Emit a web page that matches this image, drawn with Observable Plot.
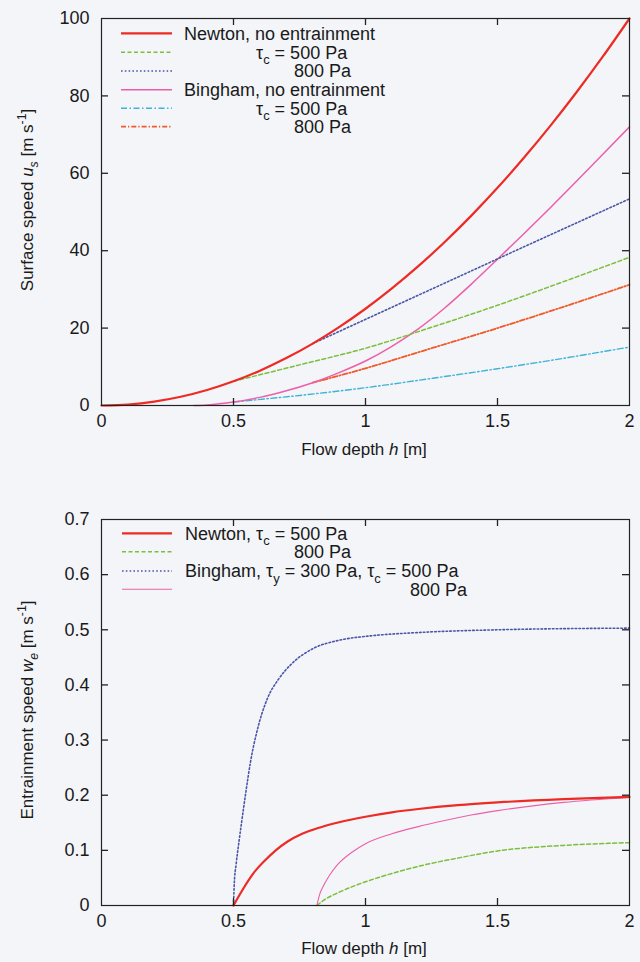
<!DOCTYPE html>
<html><head><meta charset="utf-8">
<script src="https://cdn.jsdelivr.net/npm/d3@7"></script>
<script src="https://cdn.jsdelivr.net/npm/@observablehq/plot@0.6"></script>
<style>
html,body{margin:0;padding:0;background:#f3f5f9;}
#chart{width:640px;}
svg{display:block;}
</style></head><body><div id="chart"></div>
<script>
// ---------- Data ----------
// Top panel: surface speed u_s [m/s] vs flow depth h [m]
const newtonH = [0,0.1,0.2,0.3,0.4,0.5,0.6,0.7,0.8,0.9,1.0,1.1,1.2,1.3,1.4,1.5,1.6,1.7,1.8,1.9,2.0];
const newtonU = [0,0.25,1,2.25,4,6.25,9,12.25,16,20.25,25,30.25,36,42.25,49,56.25,64,72.25,81,90.25,100];
const newton500H = [0.5,0.75,1.0,1.25,1.5,1.75,2.0];
const newton500U = [6.25,10.5,14.8,20.2,25.9,32,38.3];
const newton800H = [0.8,1.2,1.6,2.0];
const newton800U = [16,28.5,41,53.4];
const binghamH = [0.35,0.4,0.5,0.6,0.7,0.8,0.9,1.0,1.1,1.2,1.3,1.4,1.5,1.6,1.7,1.8,1.9,2.0];
const binghamU = [0,0.15,0.9,2.1,3.8,5.9,8.5,11.5,15.3,19.8,25.2,31.3,37.8,44.4,51.1,58,65,72];
const bingham500H = [0.5,0.75,1.0,1.25,1.5,1.75,2.0];
const bingham500U = [0.9,2.6,4.6,7,9.5,12.2,15.1];
const bingham800H = [0.8,1.0,1.25,1.5,1.75,2.0];
const bingham800U = [5.9,9.6,14.8,20,25.5,31.2];

// Bottom panel: entrainment speed w_e [m/s] vs flow depth h [m]
const entNewton500H = [0.5,0.53,0.578,0.62,0.66,0.705,0.76,0.831,0.9,1.0,1.1,1.2,1.35,1.5,1.75,2.0];
const entNewton500W = [0,0.025,0.06,0.082,0.1,0.116,0.13,0.142,0.151,0.161,0.169,0.175,0.182,0.187,0.193,0.197];
const entNewton800H = [0.816,0.85,0.9,1.0,1.1,1.2,1.35,1.5,1.75,2.0];
const entNewton800W = [0,0.012,0.024,0.043,0.058,0.071,0.086,0.099,0.109,0.114];
const entBingham500H = [0.5,0.503,0.51,0.52,0.531,0.546,0.565,0.59,0.629,0.67,0.724,0.806,0.9,1.02,1.2,1.5,2.0];
const entBingham500W = [0,0.04,0.075,0.113,0.152,0.203,0.262,0.318,0.376,0.41,0.44,0.467,0.481,0.489,0.495,0.5,0.503];
const entBingham800H = [0.816,0.825,0.84,0.86,0.894,0.95,1.0,1.1,1.2,1.3,1.4,1.5,1.75,2.0];
const entBingham800W = [0,0.018,0.035,0.052,0.074,0.097,0.112,0.13,0.143,0.154,0.164,0.172,0.187,0.196];

// Ticks
const xTicks = [0,0.5,1,1.5,2];
const xTickLabels = ["0","0.5","1","1.5","2"];
const topYTicks = [0,20,40,60,80,100];
const topYTickLabels = ["0","20","40","60","80","100"];
const botYTicks = [0,0.1,0.2,0.3,0.4,0.5,0.6,0.7];
const botYTickLabels = ["0","0.1","0.2","0.3","0.4","0.5","0.6","0.7"];

// ---------- Styles ----------
const FONT = "'Liberation Sans', Arial, Helvetica, sans-serif";
const C = {red:"#ee2a24", green:"#7cbf3a", blue:"#4b56a6", pink:"#ec5fa8", cyan:"#3fb3d6", orange:"#f15a29"};
const ST = {
  red:{stroke:C.red, strokeWidth:2.2, dash:null},
  green:{stroke:C.green, strokeWidth:1.5, dash:"4,2.5"},
  blue:{stroke:C.blue, strokeWidth:1.6, dash:"1.6,2.2"},
  pink:{stroke:C.pink, strokeWidth:1.5, dash:null},
  pinkThin:{stroke:C.pink, strokeWidth:1.1, dash:null},
  cyan:{stroke:C.cyan, strokeWidth:1.4, dash:"6,2.5,1.5,2.5"},
  orange:{stroke:C.orange, strokeWidth:1.8, dash:"5,2,1.3,2"}
};

function rows(hs, vs) { return hs.map((h, i) => ({h, v: vs[i]})); }
function lineMark(hs, vs, st, curve) {
  return Plot.line(rows(hs, vs), {x:"h", y:"v", stroke:st.stroke, strokeWidth:st.strokeWidth,
    strokeDasharray:st.dash || undefined, curve: curve || "monotone-x"});
}

// tick labels + inward gnuplot-style tick marks on all four sides
function axisMarks(yTicks, yLabels, frameW, frameH) {
  const xl = new Map(xTicks.map((d,i)=>[d, xTickLabels[i]]));
  const yl = new Map(yTicks.map((d,i)=>[d, yLabels[i]]));
  const innerX = xTicks.slice(1, -1);
  const innerY = yTicks.slice(1, -1);
  const T = 7;
  const tk = {stroke:"#222", strokeWidth:1.3};
  return [
    Plot.axisX(xTicks, {anchor:"bottom", tickSize:0, tickPadding:9, tickFormat:d=>xl.get(d), label:null, fontSize:18}),
    Plot.axisY(yTicks, {anchor:"left", tickSize:0, tickPadding:12, tickFormat:d=>yl.get(d), label:null, fontSize:18}),
    Plot.ruleX(innerX, {x:d=>d, insetTop:frameH - T, ...tk}),
    Plot.ruleX(innerX, {x:d=>d, insetBottom:frameH - T, ...tk}),
    Plot.ruleY(innerY, {y:d=>d, insetRight:frameW - T, ...tk}),
    Plot.ruleY(innerY, {y:d=>d, insetLeft:frameW - T, ...tk})
  ];
}

function richText(parent, parts, {x, y, anchor="start", size=18, rotate=0}) {
  const t = parent.append("text")
    .attr("transform", `translate(${x},${y}) rotate(${rotate})`)
    .attr("text-anchor", anchor)
    .attr("font-family", FONT)
    .attr("font-size", size)
    .attr("fill", "#1a1a1a")
    .attr("y", size * 0.35);
  let shift = 0;
  for (const p of parts) {
    const target = p.sub ? 0.32 * size : p.sup ? -0.42 * size : 0;
    const sp = t.append("tspan").attr("dy", target - shift).text(p.t);
    if (p.sub || p.sup) sp.attr("font-size", size * 0.72);
    if (p.it) sp.attr("font-style", "italic");
    shift = target;
  }
  return t;
}

function legend(svg, entries, {x1, x2, size}) {
  const g = svg.append("g");
  for (const e of entries) {
    const st = e.st;
    g.append("line").attr("x1", x1).attr("x2", x2).attr("y1", e.y).attr("y2", e.y)
      .attr("stroke", st.stroke).attr("stroke-width", st.strokeWidth)
      .attr("stroke-dasharray", st.dash);
    if (e.parts) richText(g, e.parts, {x:e.x, y:e.y, size});
  }
}

const tauC = [{t:"τ"},{t:"c", sub:true},{t:" = 500 Pa"}];

// ---------- Top panel ----------
const topM = {w:640, h:470, t:18, b:65, l:101, r:11};
const topPlot = Plot.plot({
  width:topM.w, height:topM.h, marginTop:topM.t, marginBottom:topM.b, marginLeft:topM.l, marginRight:topM.r,
  x:{domain:[0,2]}, y:{domain:[0,100]},
  style:{background:"transparent", fontFamily:FONT, fontSize:"18px", color:"#1a1a1a"},
  marks:[
    lineMark(bingham500H, bingham500U, ST.cyan),
    lineMark(bingham800H, bingham800U, ST.orange),
    lineMark(binghamH, binghamU, ST.pink),
    lineMark(newton500H, newton500U, ST.green),
    lineMark(newton800H, newton800U, ST.blue, "linear"),
    lineMark(newtonH, newtonU, ST.red),
    Plot.frame({stroke:"#222", strokeWidth:1.2}),
    ...axisMarks(topYTicks, topYTickLabels, topM.w - topM.l - topM.r, topM.h - topM.t - topM.b)
  ]
});
const topSvg = d3.select(topPlot);
richText(topSvg, [{t:"Flow depth "},{t:"h", it:true},{t:" [m]"}], {x:364, y:449, anchor:"middle", size:17});
richText(topSvg, [{t:"Surface speed "},{t:"u", it:true},{t:"s", sub:true, it:true},{t:" [m s"},{t:"-1", sup:true},{t:"]"}], {x:27, y:200, anchor:"middle", size:17, rotate:-90});
legend(topSvg, [
  {y:33.3, st:ST.red, x:184, parts:[{t:"Newton, no entrainment"}]},
  {y:52.3, st:ST.green, x:256, parts:tauC},
  {y:71, st:ST.blue, x:294, parts:[{t:"800 Pa"}]},
  {y:89.7, st:ST.pink, x:184, parts:[{t:"Bingham, no entrainment"}]},
  {y:108.3, st:ST.cyan, x:256, parts:tauC},
  {y:126.7, st:ST.orange, x:294, parts:[{t:"800 Pa"}]}
], {x1:121, x2:172, size:18});

// ---------- Bottom panel ----------
const botM = {w:640, h:492, t:49, b:57, l:101, r:11};
const botPlot = Plot.plot({
  width:botM.w, height:botM.h, marginTop:botM.t, marginBottom:botM.b, marginLeft:botM.l, marginRight:botM.r,
  x:{domain:[0,2]}, y:{domain:[0,0.7]},
  style:{background:"transparent", fontFamily:FONT, fontSize:"18px", color:"#1a1a1a"},
  marks:[
    lineMark(entBingham500H, entBingham500W, ST.blue),
    lineMark(entNewton800H, entNewton800W, ST.green),
    lineMark(entBingham800H, entBingham800W, ST.pinkThin),
    lineMark(entNewton500H, entNewton500W, ST.red),
    Plot.frame({stroke:"#222", strokeWidth:1.2}),
    ...axisMarks(botYTicks, botYTickLabels, botM.w - botM.l - botM.r, botM.h - botM.t - botM.b)
  ]
});
const botSvg = d3.select(botPlot);
richText(botSvg, [{t:"Flow depth "},{t:"h", it:true},{t:" [m]"}], {x:364, y:478, anchor:"middle", size:17});
richText(botSvg, [{t:"Entrainment speed "},{t:"w", it:true},{t:"e", sub:true, it:true},{t:" [m s"},{t:"-1", sup:true},{t:"]"}], {x:27, y:240, anchor:"middle", size:17, rotate:-90});
legend(botSvg, [
  {y:63.3, st:ST.red, x:185, parts:[{t:"Newton, "},{t:"τ"},{t:"c", sub:true},{t:" = 500 Pa"}]},
  {y:81.7, st:ST.green, x:294, parts:[{t:"800 Pa"}]},
  {y:101, st:ST.blue, x:185, parts:[{t:"Bingham, "},{t:"τ"},{t:"y", sub:true},{t:" = 300 Pa, "},{t:"τ"},{t:"c", sub:true},{t:" = 500 Pa"}]},
  {y:119.3, st:ST.pinkThin, x:410, parts:[{t:"800 Pa"}]}
], {x1:122, x2:172, size:18});

document.getElementById("chart").append(topPlot, botPlot);
</script>
</body></html>
